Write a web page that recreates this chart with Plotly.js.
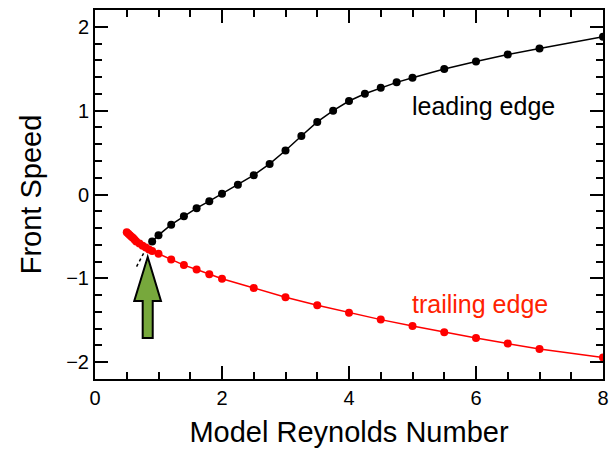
<!DOCTYPE html>
<html>
<head>
<meta charset="utf-8">
<script src="https://cdn.plot.ly/plotly-3.0.1.min.js"></script>
<style>html,body{margin:0;padding:0;background:#fff;}#chart{width:611px;height:452px;}</style>
</head>
<body>
<div id="chart"></div>
<script>
// Leading edge (black)
const leadX = [0.9, 1.0, 1.2, 1.4, 1.6, 1.8, 2.0, 2.25, 2.5, 2.75, 3.0, 3.25, 3.5, 3.75, 4.0, 4.25, 4.5, 4.75, 5.0, 5.5, 6.0, 6.5, 7.0, 8.0];
const leadY = [-0.56, -0.485, -0.36, -0.258, -0.163, -0.079, 0.008, 0.115, 0.23, 0.365, 0.524, 0.698, 0.865, 1.0, 1.115, 1.202, 1.274, 1.337, 1.393, 1.496, 1.587, 1.67, 1.742, 1.881];
// Trailing edge (red)
const trailX = [0.5, 0.525, 0.55, 0.575, 0.6, 0.625, 0.65, 0.7, 0.75, 0.8, 0.85, 0.9, 1.0, 1.2, 1.4, 1.6, 1.8, 2.0, 2.5, 3.0, 3.5, 4.0, 4.5, 5.0, 5.5, 6.0, 6.5, 7.0, 8.0];
const trailY = [-0.45, -0.468, -0.485, -0.503, -0.52, -0.54, -0.56, -0.585, -0.61, -0.632, -0.655, -0.675, -0.706, -0.776, -0.842, -0.895, -0.95, -1.004, -1.115, -1.226, -1.321, -1.409, -1.492, -1.568, -1.643, -1.71, -1.778, -1.841, -1.944];
// Dotted extrapolation of leading edge
const extX = [0.655, 0.78];
const extY = [-0.86, -0.68];
// Arrow outline (data coords)
const arrowX = [0.751, 0.909, 0.909, 1.039, 0.83, 0.618, 0.751];
const arrowY = [-1.71, -1.71, -1.27, -1.27, -0.746, -1.27, -1.27];

const arrowPath = 'M ' + arrowX.map((x, i) => x + ',' + arrowY[i]).join(' L ') + ' Z';

const font = 'Liberation Sans, Arial, Helvetica, sans-serif';

const traces = [
  {x: extX, y: extY, mode: 'lines', line: {color: '#000', width: 1.5, dash: 'dot'}, hoverinfo: 'skip'},
  {x: leadX, y: leadY, mode: 'lines+markers', name: 'leading edge', line: {color: '#000', width: 1.5}, marker: {color: '#000', size: 8}},
  {x: trailX, y: trailY, mode: 'lines+markers', name: 'trailing edge', line: {color: '#ff0000', width: 1.5}, marker: {color: '#ff0000', size: 8}}
];

function axis(extra) {
  return Object.assign({
    showgrid: false, zeroline: false, showline: true, linecolor: '#000', linewidth: 2,
    mirror: 'allticks', ticks: 'inside', ticklen: 13, tickwidth: 2, tickcolor: '#000',
    tickfont: {family: font, size: 20, color: '#000'}
  }, extra);
}

const layout = {
  width: 611, height: 452,
  margin: {l: 95, r: 8, t: 10, b: 73},
  paper_bgcolor: '#fff', plot_bgcolor: '#fff',
  showlegend: false,
  font: {family: font, color: '#000'},
  xaxis: axis({
    range: [0, 8], dtick: 2,
    minor: {dtick: 0.5, ticks: 'inside', ticklen: 7, tickwidth: 2, tickcolor: '#000'},
    title: {text: 'Model Reynolds Number', font: {family: font, size: 29, color: '#000'}, standoff: 14}
  }),
  yaxis: axis({
    range: [-2.2, 2.2], dtick: 1,
    minor: {dtick: 0.2, ticks: 'inside', ticklen: 7, tickwidth: 2, tickcolor: '#000'},
    title: {text: 'Front Speed', font: {family: font, size: 29, color: '#000'}, standoff: 16}
  }),
  shapes: [
    {type: 'path', xref: 'x', yref: 'y', path: arrowPath, fillcolor: '#77a83c', line: {color: '#000', width: 2}}
  ],
  annotations: [
    {x: 6.12, y: 1.06, xref: 'x', yref: 'y', text: 'leading edge', showarrow: false, font: {family: font, size: 25, color: '#000'}},
    {x: 6.06, y: -1.30, xref: 'x', yref: 'y', text: 'trailing edge', showarrow: false, font: {family: font, size: 25, color: '#ff2200'}}
  ]
};

Plotly.newPlot('chart', traces, layout, {displayModeBar: false});
</script>
</body>
</html>
